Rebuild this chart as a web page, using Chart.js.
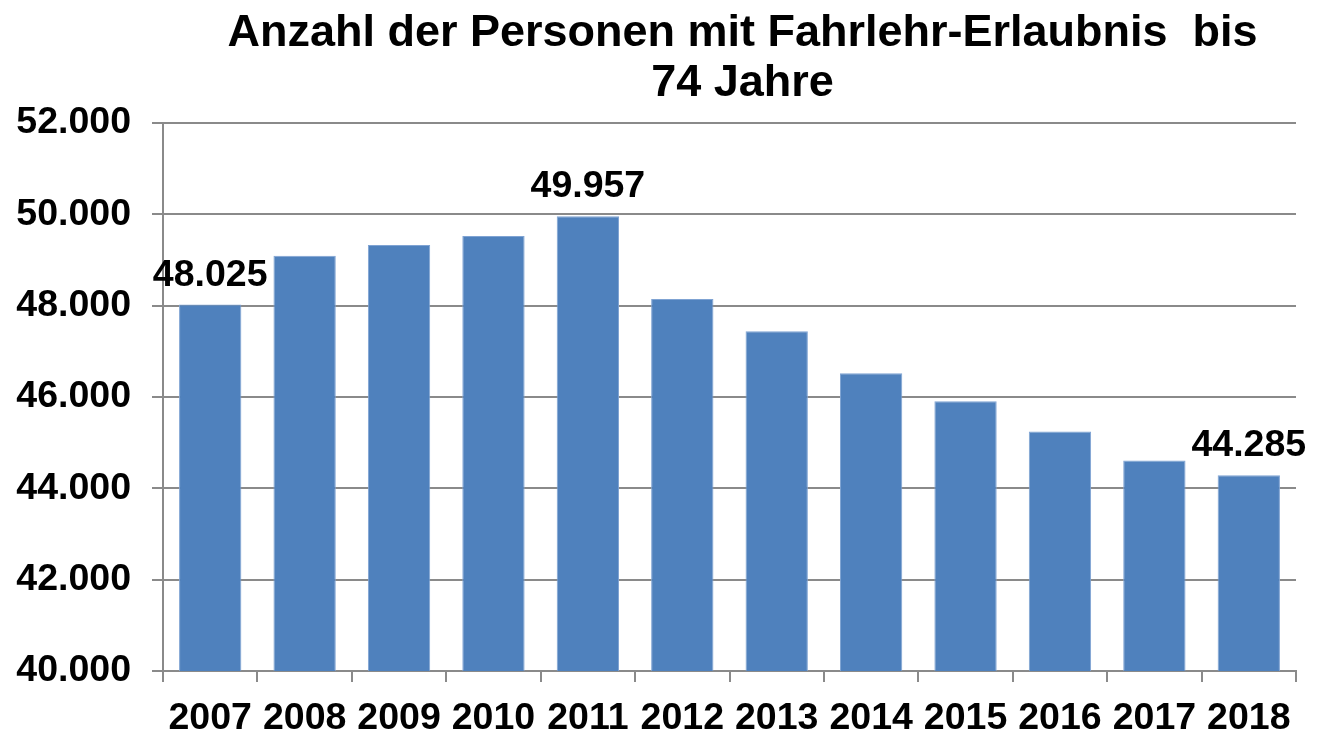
<!DOCTYPE html>
<html>
<head>
<meta charset="utf-8">
<script src="https://cdn.jsdelivr.net/npm/chart.js@4/dist/chart.umd.min.js"></script>
<style>
  html, body { margin: 0; padding: 0; background: #ffffff; }
  #wrap { position: relative; width: 1320px; height: 731px; }
</style>
</head>
<body>
<div id="wrap"><canvas id="c" width="1320" height="731"></canvas></div>
<script>
const categories = ['2007','2008','2009','2010','2011','2012','2013','2014','2015','2016','2017','2018'];
const values = [48025, 49095, 49330, 49525, 49957, 48147, 47440, 46520, 45905, 45242, 44607, 44285];
const shownLabels = ['48.025', '', '', '', '49.957', '', '', '', '', '', '', '44.285'];
const yTicks = [40000, 42000, 44000, 46000, 48000, 50000, 52000];
const titleLines = ['Anzahl der Personen mit Fahrlehr-Erlaubnis  bis', '74 Jahre'];

const FONT = '"Liberation Sans", Arial, sans-serif';
const GRID = '#8a8a8a';
const TICK_SIZE = 37.5;

function fmt(v) {
  return String(v).replace(/\B(?=(\d{3})+(?!\d))/g, '.');
}

const labelPlugin = {
  id: 'barLabels',
  afterDatasetsDraw(chart) {
    const ctx = chart.ctx;
    const meta = chart.getDatasetMeta(0);
    ctx.save();
    ctx.font = 'bold ' + TICK_SIZE + 'px ' + FONT;
    ctx.fillStyle = '#000000';
    ctx.textAlign = 'center';
    ctx.textBaseline = 'alphabetic';
    meta.data.forEach((bar, i) => {
      const t = shownLabels[i];
      if (!t) return;
      const p = bar.getProps(['x', 'y'], true);
      ctx.fillText(t, p.x, p.y - 19);
    });
    ctx.restore();
  }
};

const titleShift = {
  id: 'titleShift',
  afterLayout(chart) {
    const tb = chart.titleBlock;
    if (tb) { tb.left += 13; tb.right += 13; }
  }
};

new Chart(document.getElementById('c'), {
  type: 'bar',
  data: {
    labels: categories,
    datasets: [{
      data: values,
      backgroundColor: '#4F81BD',
      borderColor: '#7FA3D3',
      borderWidth: 1,
      categoryPercentage: 0.66,
      barPercentage: 1.0
    }]
  },
  options: {
    responsive: false,
    animation: false,
    layout: { padding: { left: 0, right: 24, top: 0, bottom: 0 } },
    plugins: {
      legend: { display: false },
      tooltip: { enabled: false },
      title: {
        display: true,
        text: titleLines,
        fullSize: false,
        color: '#000000',
        font: { family: FONT, size: 45, weight: 'bold', lineHeight: 1.1 },
        padding: { top: 9, bottom: 15 }
      }
    },
    scales: {
      x: {
        grid: {
          display: true,
          drawOnChartArea: false,
          drawTicks: true,
          tickLength: 11,
          color: GRID,
          lineWidth: 2,
          offset: true
        },
        border: { display: true, color: GRID, width: 2 },
        ticks: {
          color: '#000000',
          font: { family: FONT, size: TICK_SIZE, weight: 'bold' },
          padding: 14,
          maxRotation: 0,
          autoSkip: false
        },
        afterFit(scale) { scale.height = 60; }
      },
      y: {
        min: 40000,
        max: 52000,
        afterBuildTicks(scale) { scale.ticks = yTicks.map(v => ({ value: v })); },
        grid: {
          display: true,
          drawOnChartArea: true,
          drawTicks: true,
          tickLength: 11,
          color: GRID,
          lineWidth: 2
        },
        border: { display: true, color: GRID, width: 2 },
        ticks: {
          color: '#000000',
          font: { family: FONT, size: TICK_SIZE, weight: 'bold' },
          padding: 21,
          callback: (v) => fmt(v)
        },
        afterFit(scale) { scale.width = 163; }
      }
    }
  },
  plugins: [labelPlugin, titleShift]
});
</script>
</body>
</html>
